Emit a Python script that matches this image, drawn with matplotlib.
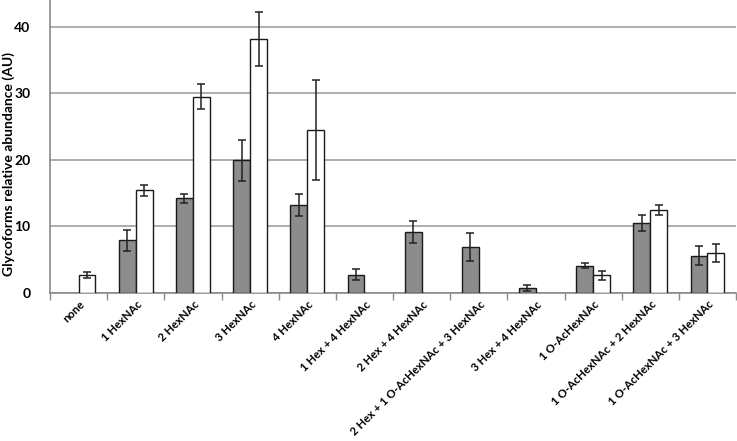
import numpy as np
import matplotlib
matplotlib.use("Agg")
import matplotlib.pyplot as plt

plt.rcParams['font.family'] = ['Lato', 'DejaVu Sans']

categories = ['none', '1 HexNAc', '2 HexNAc', '3 HexNAc', '4 HexNAc',
              '1 Hex + 4 HexNAc', '2 Hex + 4 HexNAc',
              '2 Hex + 1 O-AcHexNAc + 3 HexNAc', '3 Hex + 4 HexNAc',
              '1 O-AcHexNAc', '1 O-AcHexNAc + 2 HexNAc', '1 O-AcHexNAc + 3 HexNAc']

# grey series (nan = no bar)
grey_vals = [np.nan, 7.9, 14.2, 19.9, 13.2, 2.75, 9.15, 6.9, 0.75, 4.1, 10.5, 5.6]
grey_err = [np.nan, 1.6, 0.65, 3.1, 1.65, 0.78, 1.68, 2.1, 0.45, 0.4, 1.2, 1.45]
# white series
white_vals = [2.7, 15.4, 29.5, 38.15, 24.5, np.nan, np.nan, np.nan, np.nan, 2.65, 12.45, 6.0]
white_err = [0.4, 0.78, 1.85, 4.05, 7.5, np.nan, np.nan, np.nan, np.nan, 0.65, 0.7, 1.4]

fig = plt.figure(figsize=(7.37, 4.41), dpi=100)
ax = fig.add_axes([50 / 737, 1 - 293 / 441, 686 / 737, 293 / 441])

x = np.arange(len(categories))
w = 0.295

ekw = dict(elinewidth=1.1, capsize=3, capthick=1.1, ecolor='#222222')
ax.bar(x - w / 2, grey_vals, w, color='#8c8c8c', edgecolor='#1a1a1a', linewidth=1,
       yerr=grey_err, error_kw=ekw, zorder=3)
ax.bar(x + w / 2, white_vals, w, color='white', edgecolor='#1a1a1a', linewidth=1,
       yerr=white_err, error_kw=ekw, zorder=3)

ax.set_xlim(-0.5, len(categories) - 0.5)
ax.set_ylim(0, 44)
ax.set_yticks([0, 10, 20, 30, 40])
ax.grid(axis='y', color='#a0a0a0', linewidth=1.2, zorder=0)
ax.set_axisbelow(True)

for s in ['top', 'right']:
    ax.spines[s].set_visible(False)
ax.spines['left'].set_color('#8a8a8a')
ax.spines['bottom'].set_color('#8a8a8a')
ax.spines['left'].set_linewidth(1.2)
ax.spines['bottom'].set_linewidth(1.2)

# category boundary ticks on x axis
ax.set_xticks(np.arange(-0.5, len(categories), 1.0))
ax.set_xticklabels([])
ax.tick_params(axis='x', length=5, color='#8a8a8a', width=1)
ax.tick_params(axis='y', length=0, labelsize=10, pad=14)
for lab in ax.get_yticklabels():
    lab.set_fontweight('bold')

for xi, name in zip(x, categories):
    ax.annotate(name, xy=(xi, 0), xycoords=('data', 'axes fraction'),
                xytext=(3, -7), textcoords='offset points',
                rotation=45, rotation_mode='anchor', ha='right', va='center',
                fontsize=8.2, fontweight='bold')

ax.set_ylabel('Glycoforms relative abundance (AU)', fontsize=10, fontweight='bold')
ax.yaxis.set_label_coords(-0.051, 0.44)

fig.savefig('out.png', dpi=100)
